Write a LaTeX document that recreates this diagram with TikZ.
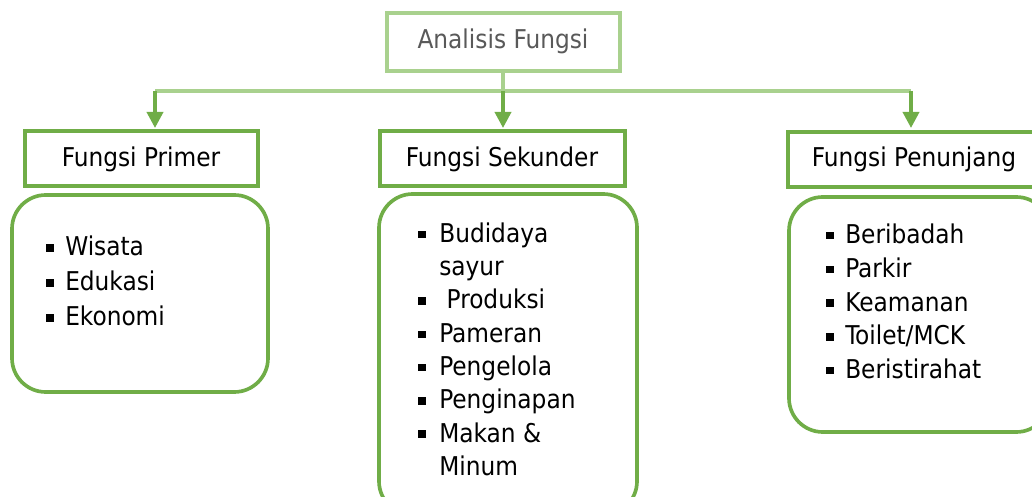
\documentclass[tikz,border=0pt]{standalone}
\usepackage{fontspec}
\setmainfont{DejaVu Sans Condensed}
\usetikzlibrary{arrows.meta}

\definecolor{daun}{HTML}{70AD47}
\definecolor{daunmuda}{HTML}{A9D18E}
\definecolor{abu}{HTML}{595959}

\tikzset{
  kotak/.style={draw=daun, line width=2.6pt, fill=white},
  bulat/.style={draw=daun, line width=2.6pt, rounded corners=24pt, fill=white},
  judul/.style={font=\fontsize{18.4}{20}\selectfont, anchor=base},
  butir/.style={font=\fontsize{18.4}{20}\selectfont, anchor=base west, inner sep=0pt},
  panah/.style={draw=daun, line width=2.6pt, -{Triangle[length=11.5pt,width=11.5pt]}}
}
\newcommand{\tanda}{\makebox[13.5pt][l]{\raisebox{3pt}{\rule{5.3pt}{5.3pt}}}}

\begin{document}
\begin{tikzpicture}[x=0.025cm,y=-0.025cm]
      \useasboundingbox (0,0) rectangle (1032,497);
      % kotak atas
      \draw[draw=daunmuda, line width=2.6pt, fill=white] (387,13) rectangle (620,71);
      \node[judul, text=abu] (analisis) at (503,49) {Analisis Fungsi};
      \coordinate (pusat) at (503,71);
      \coordinate (kiri) at (155,91);
      \coordinate (tengah) at (503,91);
      \coordinate (kanan) at (911,91);
      \draw[draw=daunmuda, line width=2.6pt] (pusat) -- (tengah);
      \draw[draw=daunmuda, line width=2.6pt] (kiri) -- (kanan);
      % panah ke tiap fungsi
      \coordinate (primer-ujung) at (155,128);
      \coordinate (sekunder-ujung) at (503,128);
      \coordinate (penunjang-ujung) at (911,128);
      \draw[panah] (kiri) -- (primer-ujung);
      \draw[panah] (tengah) -- (sekunder-ujung);
      \draw[panah] (kanan) -- (penunjang-ujung);
      % kotak judul fungsi
      \draw[kotak] (25,131) rectangle (258,186);
      \node[judul] (primer) at (141,167) {Fungsi Primer};
      \draw[kotak] (380,131) rectangle (625,186);
      \node[judul] (sekunder) at (502,167) {Fungsi Sekunder};
      \draw[kotak] (788,132) rectangle (1045,187);
      \node[judul] (penunjang) at (914,167) {Fungsi Penunjang};
      % kotak isi
      \draw[bulat] (12,195) rectangle (268,392);
      \draw[bulat] (379,194) rectangle (637,515);
      \draw[bulat] (789,197) rectangle (1050,432);
      \foreach \isi [count=\i] in {Wisata,Edukasi,Ekonomi} {
        \node[butir] (primer\i) at (46,{221+35*\i}) {\tanda\isi}; }
      \foreach \isi [count=\i] in {Budidaya,sayur,\ Produksi,Pameran,Pengelola,Penginapan,Makan \&,Minum} {
        \node[butir] (sekunder\i) at (439,{209+33.3*\i}) {\isi}; }
      \foreach \i in {1,3,4,5,6,7} {
        \node[butir] (tanda\i) at (418,{209+33.3*\i}) {\tanda}; }
      \foreach \isi [count=\i] in {Beribadah,Parkir,Keamanan,Toilet/MCK,Beristirahat} {
        \node[butir] (penunjang\i) at (826,{210+33.7*\i}) {\tanda\isi}; }
\end{tikzpicture}
\end{document}
